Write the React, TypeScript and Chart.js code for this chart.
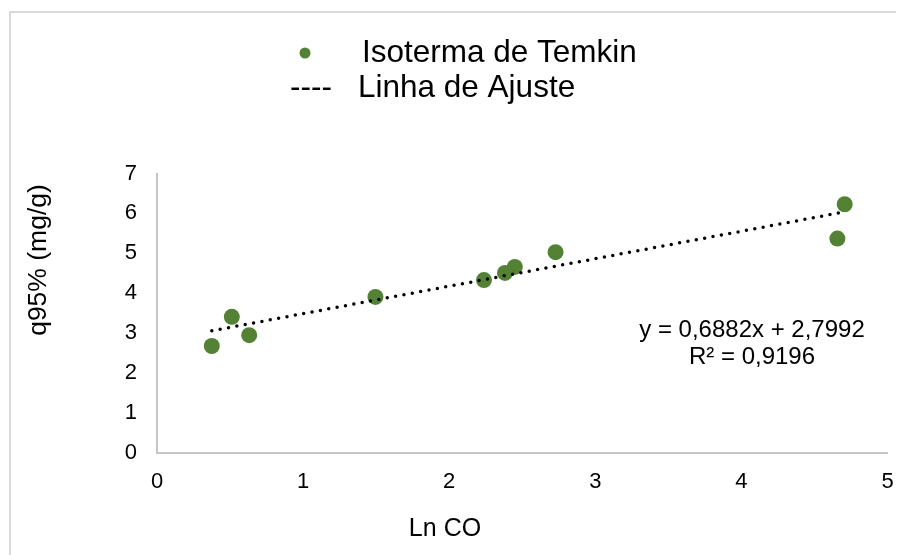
import React, { useEffect, useRef } from 'react';
import { Chart, registerables } from 'chart.js';

Chart.register(...registerables);

// ---- data ----
const lnCO = [0.375, 0.512, 0.631, 1.495, 2.238, 2.382, 2.449, 2.728, 4.657, 4.707];
const q95 = [2.68, 3.41, 2.95, 3.91, 4.33, 4.51, 4.66, 5.03, 5.37, 6.23];
const trendX = [0.375, 4.707];
const trendY = [3.06, 6.04];
const xTickValues = [0, 1, 2, 3, 4, 5];
const yTickValues = [0, 1, 2, 3, 4, 5, 6, 7];
const seriesName = 'Isoterma de Temkin';
const fitName = 'Linha de Ajuste';
const equationText = 'y = 0,6882x + 2,7992';
const r2Text = 'R² = 0,9196';
const xTitle = 'Ln CO';
const yTitle = 'q95% (mg/g)';

const GREEN = '#548235';
const AXIS = '#c6c6c6';
const FONT = '"Liberation Sans", Arial, sans-serif';

const decorPlugin = {
  id: 'decor',
  beforeDraw(chart: any) {
    const ctx = chart.ctx;
    ctx.save();
    ctx.fillStyle = '#ffffff';
    ctx.fillRect(0, 0, chart.width, chart.height);
    ctx.strokeStyle = '#d9d9d9';
    ctx.lineWidth = 2;
    ctx.strokeRect(2, 4, chart.width + 50, chart.height + 50);
    ctx.restore();
  },
  afterDraw(chart: any) {
    const ctx = chart.ctx;
    ctx.save();
    ctx.fillStyle = '#000';
    ctx.textAlign = 'left';
    ctx.textBaseline = 'alphabetic';
    // legend
    ctx.beginPath();
    ctx.arc(297, 45, 5.5, 0, Math.PI * 2);
    ctx.fillStyle = GREEN;
    ctx.fill();
    ctx.fillStyle = '#000';
    ctx.font = `31.5px ${FONT}`;
    ctx.fillText(seriesName, 354, 54);
    ctx.fillText('----', 282, 89);
    ctx.fillText(fitName, 350, 89);
    // equation
    ctx.textAlign = 'center';
    ctx.font = `24px ${FONT}`;
    ctx.fillText(equationText, 744, 329);
    ctx.fillText(r2Text, 744, 356);
    // x title
    ctx.font = `25px ${FONT}`;
    ctx.fillText(xTitle, 437, 528);
    // y title
    ctx.save();
    ctx.translate(31, 252);
    ctx.rotate(-Math.PI / 2);
    ctx.textBaseline = 'middle';
    ctx.font = `26.5px ${FONT}`;
    ctx.fillText(yTitle, 0, 0);
    ctx.restore();
    ctx.restore();
  },
};

export default function App() {
  const ref = useRef<HTMLCanvasElement | null>(null);
  useEffect(() => {
    if (!ref.current) return;
    const chart = new Chart(ref.current, {
      type: 'scatter',
      data: {
        datasets: [
          {
            label: fitName,
            data: trendX.map((x, i) => ({ x, y: trendY[i] })),
            showLine: true,
            borderColor: '#000',
            borderWidth: 3.5,
            borderDash: [0, 8.5],
            borderCapStyle: 'round',
            pointRadius: 0,
            order: 0,
          } as any,
          {
            label: seriesName,
            data: lnCO.map((x, i) => ({ x, y: q95[i] })),
            backgroundColor: GREEN,
            borderColor: GREEN,
            borderWidth: 0,
            pointRadius: 8,
            order: 1,
          },
        ],
      },
      options: {
        animation: false,
        responsive: false,
        maintainAspectRatio: false,
        layout: { padding: { top: 165.5, left: 0, right: 16.5, bottom: 0 } },
        plugins: { legend: { display: false }, tooltip: { enabled: false } },
        scales: {
          x: {
            type: 'linear',
            min: 0,
            max: 5,
            grid: { display: false },
            border: { display: true, color: AXIS, width: 2 },
            afterBuildTicks: (s: any) => {
              s.ticks = xTickValues.map((v) => ({ value: v }));
            },
            afterFit: (s: any) => {
              s.height = 102;
            },
            ticks: {
              padding: 8,
              color: '#000',
              font: { family: FONT, size: 22 },
              maxRotation: 0,
            },
          },
          y: {
            type: 'linear',
            min: 0,
            max: 7,
            grid: { display: false },
            border: { display: true, color: AXIS, width: 2 },
            afterBuildTicks: (s: any) => {
              s.ticks = yTickValues.map((v) => ({ value: v }));
            },
            afterFit: (s: any) => {
              s.width = 149;
            },
            ticks: {
              padding: 12,
              color: '#000',
              font: { family: FONT, size: 22 },
            },
          },
        },
      },
      plugins: [decorPlugin],
    });
    return () => chart.destroy();
  }, []);
  return (
    <div>
      <canvas ref={ref} width={896} height={547} style={{ display: 'block' }} />
    </div>
  );
}
